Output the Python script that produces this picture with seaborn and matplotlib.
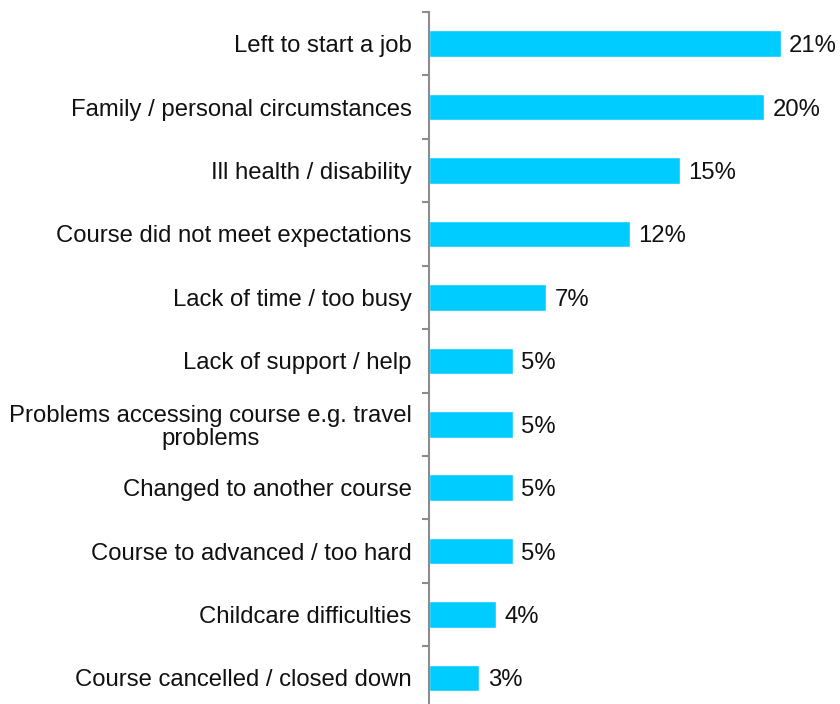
import numpy as np
import pandas as pd
import matplotlib
matplotlib.use("Agg")
import matplotlib.pyplot as plt
import seaborn as sns

reasons = [
    "Left to start a job",
    "Family / personal circumstances",
    "Ill health / disability",
    "Course did not meet expectations",
    "Lack of time / too busy",
    "Lack of support / help",
    "Problems accessing course e.g. travel\nproblems",
    "Changed to another course",
    "Course to advanced / too hard",
    "Childcare difficulties",
    "Course cancelled / closed down",
]
percent = [21, 20, 15, 12, 7, 5, 5, 5, 5, 4, 3]

df = pd.DataFrame({"reason": reasons, "percent": percent})

sns.set_theme(style="white")
plt.rcParams["font.family"] = ["Liberation Sans", "DejaVu Sans"]

fig = plt.figure(figsize=(8.4, 7.04), dpi=100)
ax = fig.add_axes([429 / 840, -5.7 / 704, 402 / 840, 697.7 / 704])

sns.barplot(data=df, x="percent", y="reason", color="#00CCFF",
            saturation=1, width=0.42, ax=ax)

ax.set_xlim(0, 24)
ax.set_ylim(10.5, -0.5)
ax.set_xlabel("")
ax.set_ylabel("")
ax.set_xticks([])

for c in ax.containers:
    anns = ax.bar_label(c, labels=[f"{v}%" for v in percent], padding=6,
                        fontsize=17.2, color="#111111")
    for a in anns:
        a.xyann = (6, -1.8)

ax.set_yticks(np.arange(-0.5, 11, 1.0), minor=True)
ax.tick_params(axis="y", which="major", length=0, pad=12.5, labelsize=17.2,
               labelcolor="#111111")
ax.tick_params(axis="y", which="minor", length=5, width=1.5,
               color="#8c8c8c", left=True)
for lbl in ax.get_yticklabels():
    lbl.set_multialignment("center")
    lbl.set_linespacing(1.1)

for side in ("top", "right", "bottom"):
    ax.spines[side].set_visible(False)
ax.spines["left"].set_color("#8c8c8c")
ax.spines["left"].set_linewidth(1.5)

fig.savefig("out.png", dpi=100)
